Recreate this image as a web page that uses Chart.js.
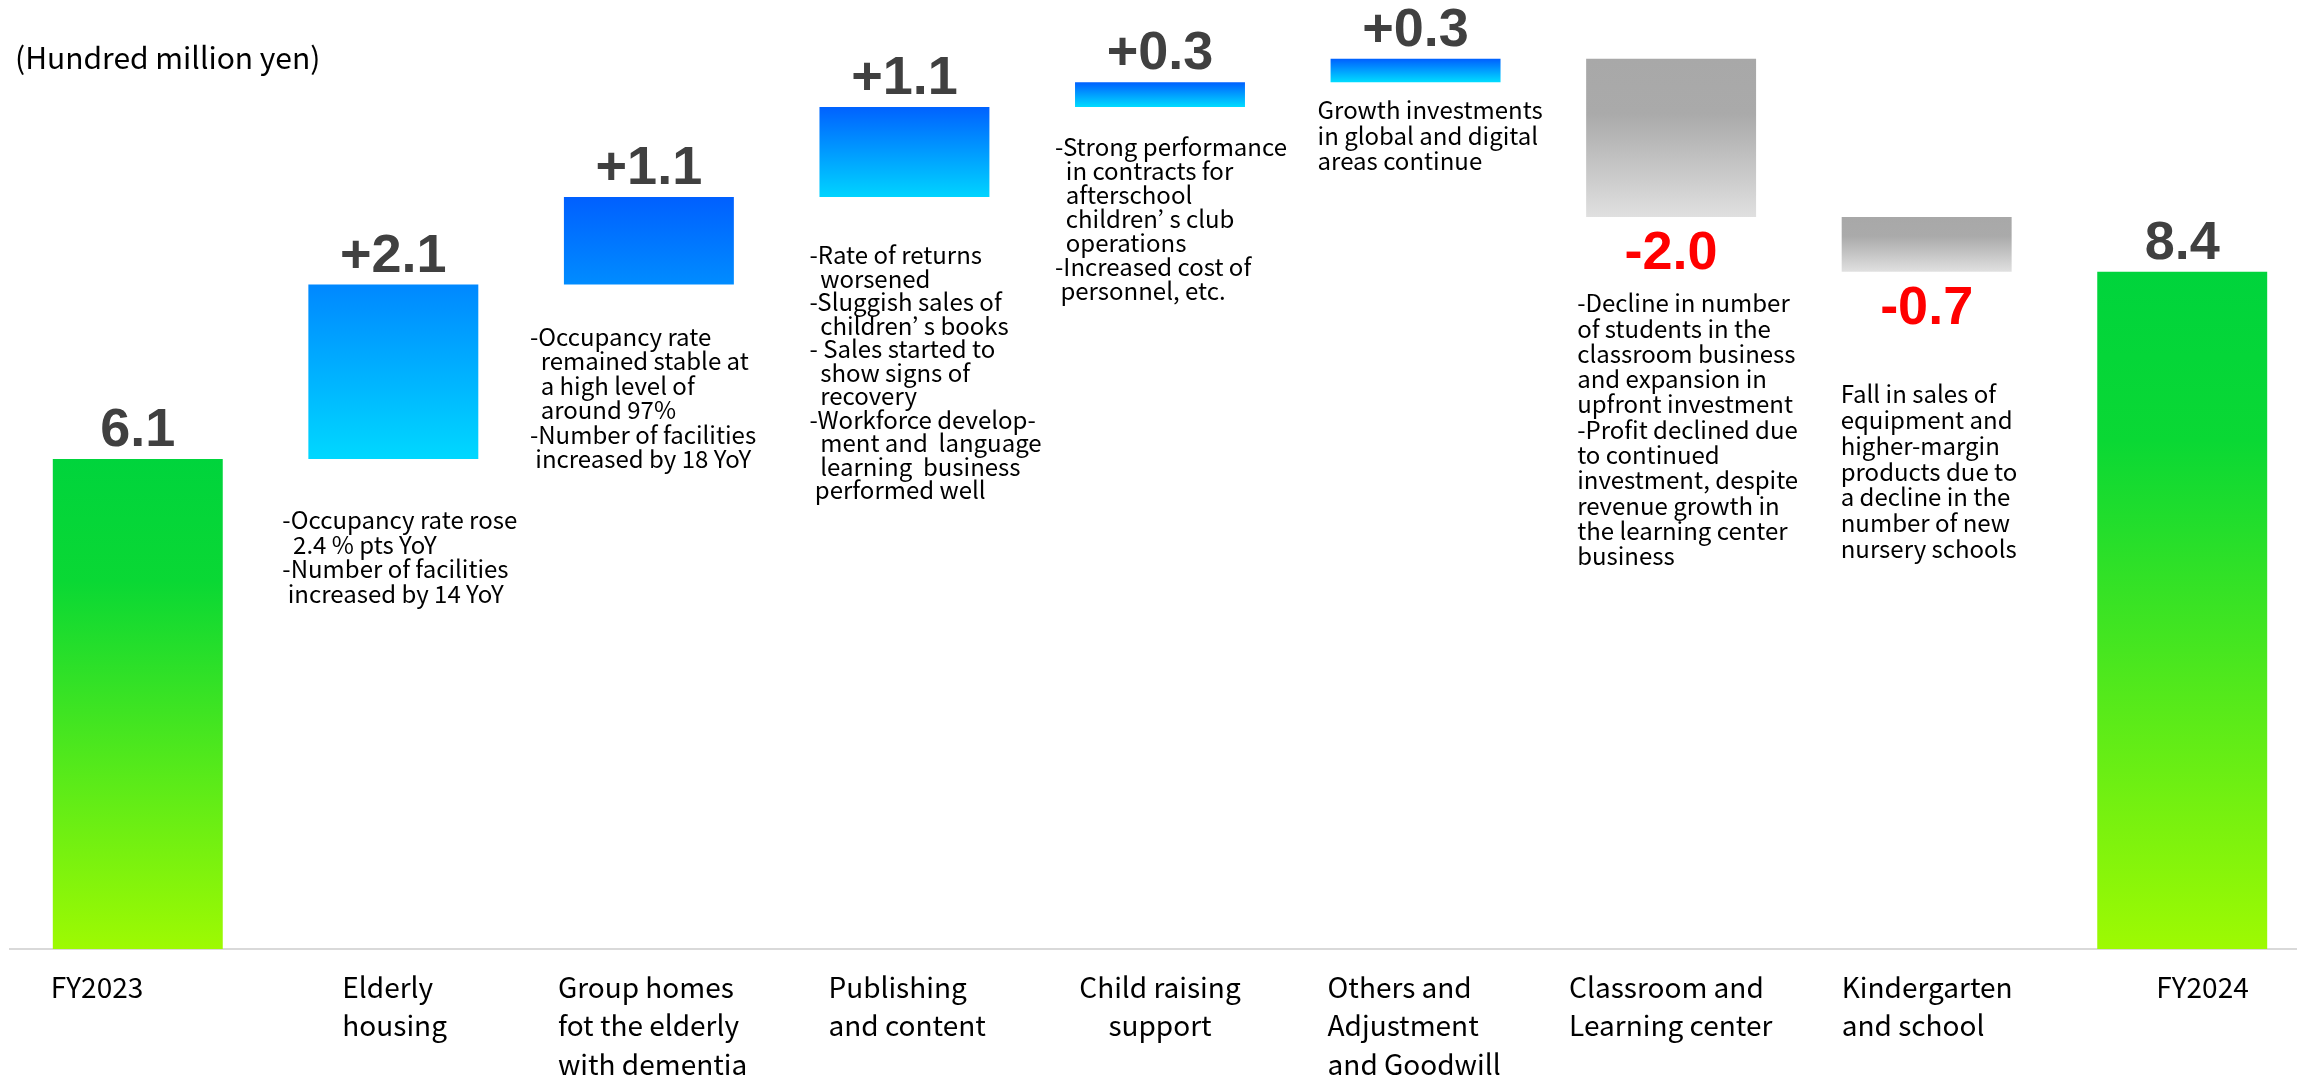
<!DOCTYPE html>
<html lang="en">
<head>
  <meta charset="UTF-8">
  <title>Operating profit bridge FY2023 to FY2024</title>
  <script src="https://cdn.jsdelivr.net/npm/chart.js"></script>
  <style>
    html, body { margin: 0; padding: 0; background: #fff; overflow: hidden; }
    #wrap { position: relative; width: 2310px; height: 1079px; }
  </style>
</head>
<body>
  <div id="wrap"><canvas id="bridgeChart"></canvas></div>

  <script>
    // categories (multi-line x labels)
    const categories = [
      ["FY2023"],
      ["Elderly", "housing"],
      ["Group homes", "fot the elderly", "with dementia"],
      ["Publishing", "and content"],
      ["Child raising", "support"],
      ["Others and", "Adjustment", "and Goodwill"],
      ["Classroom and", "Learning center"],
      ["Kindergarten", "and school"],
      ["FY2024"]
    ];

    // floating bar ranges (hundred million yen)
    const barStart = [0, 6.1, 8.27, 9.36, 10.48, 10.79, 11.08, 9.11, 0];
    const barEnd   = [6.1, 8.27, 9.36, 10.48, 10.79, 11.08, 9.11, 8.43, 8.43];

    const valueLabels = ["6.1", "+2.1", "+1.1", "+1.1", "+0.3", "+0.3", "-2.0", "-0.7", "8.4"];

    const notes = [
      [],
      ["-Occupancy rate rose", "  2.4 % pts YoY", "-Number of facilities", " increased by 14 YoY"],
      ["-Occupancy rate", "  remained stable at", "  a high level of", "  around 97%", "-Number of facilities", " increased by 18 YoY"],
      ["-Rate of returns", "  worsened", "-Sluggish sales of", "  children\u2019 s books", "- Sales started to", "  show signs of", "  recovery",
       "-Workforce develop-", "  ment and  language", "  learning  business", " performed well"],
      ["-Strong performance", "  in contracts for", "  afterschool", "  children\u2019 s club", "  operations", "-Increased cost of", " personnel, etc."],
      ["Growth investments", "in global and digital", "areas continue"],
      ["-Decline in number", "of students in the", "classroom business", "and expansion in", "upfront investment",
       "-Profit declined due", "to continued", "investment, despite", "revenue growth in", "the learning center", "business"],
      ["Fall in sales of", "equipment and", "higher-margin", "products due to", "a decline in the", "number of new", "nursery schools"],
      []
    ];

    const unitLabel = "(Hundred million yen)";

    // styles
    const green = [[0, '#00d43c'], [0.25, '#0ad834'], [1, '#9efa02']];
    const grey = [[0, '#a8a8a8'], [0.35, '#aaaaaa'], [1, '#e0e0e0']];
    const barStops = [
      green,
      [[0, '#0088ff'], [1, '#00d8ff']],
      [[0, '#0060ff'], [1, '#008cff']],
      [[0, '#0062ff'], [1, '#00d4ff']],
      [[0, '#0060ff'], [1, '#00dcff']],
      [[0, '#0060ff'], [1, '#00dcff']],
      grey,
      grey,
      green
    ];
    const noteOffset = [null, [-26, 61], [-34, 52], [-10, 58], [-20, 40], [-13, 28], [-9, 86], [-1, 122], null];
    const noteLineHeight = [0, 24.5, 24.5, 23.5, 24, 25.5, 25.3, 25.9, 0];
    const labelDx = [-87, -51, -91, -76, null, -88, -102, -85, -26]; // null = centred lines

    const textFont = "'Noto Sans CJK JP', 'Noto Sans', sans-serif";
    const numFont = "'Liberation Sans', Arial, sans-serif";

    function barFill(ctx) {
      const chart = ctx.chart;
      const i = ctx.dataIndex;
      if (!chart.chartArea || i === undefined) return '#cccccc';
      const y = chart.scales.y;
      const top = y.getPixelForValue(Math.max(barStart[i], barEnd[i]));
      const bottom = y.getPixelForValue(Math.min(barStart[i], barEnd[i]));
      const g = chart.ctx.createLinearGradient(0, top, 0, bottom);
      barStops[i].forEach(([o, c]) => g.addColorStop(o, c));
      return g;
    }

    const annotate = {
      id: 'annotate',
      afterDatasetsDraw(chart) {
        const ctx = chart.ctx;
        const bars = chart.getDatasetMeta(0).data;
        ctx.save();

        // value labels
        ctx.font = "bold 54px " + numFont;
        ctx.textAlign = 'center';
        ctx.textBaseline = 'alphabetic';
        bars.forEach((el, i) => {
          const top = Math.min(el.y, el.base);
          const bottom = Math.max(el.y, el.base);
          if (barEnd[i] < barStart[i]) {
            ctx.fillStyle = '#ff0000';
            ctx.fillText(valueLabels[i], el.x, bottom + 52);
          } else {
            ctx.fillStyle = '#404040';
            ctx.fillText(valueLabels[i], el.x, top - 13);
          }
        });

        // comment blocks
        ctx.font = "24px " + textFont;
        ctx.textAlign = 'left';
        ctx.textBaseline = 'middle';
        ctx.fillStyle = '#000000';
        bars.forEach((el, i) => {
          if (!notes[i].length) return;
          const bottom = Math.max(el.y, el.base);
          const x0 = el.x - el.width / 2 + noteOffset[i][0];
          const y0 = bottom + noteOffset[i][1];
          notes[i].forEach((line, k) => ctx.fillText(line, x0, y0 + k * noteLineHeight[i]));
        });

        // category labels under the axis
        const xs = chart.scales.x;
        ctx.font = "28px " + textFont;
        categories.forEach((lines, i) => {
          const cx = xs.getPixelForValue(i);
          lines.forEach((line, k) => {
            const ly = 987 + k * 38.5;
            if (labelDx[i] === null) {
              ctx.textAlign = 'center';
              ctx.fillText(line, cx, ly);
            } else {
              ctx.textAlign = 'left';
              ctx.fillText(line, cx + labelDx[i], ly);
            }
          });
        });

        // unit label
        ctx.textAlign = 'left';
        ctx.font = "30px " + textFont;
        ctx.fillText(unitLabel, 15, 58);
        ctx.restore();
      }
    };

    new Chart(document.getElementById('bridgeChart'), {
      type: 'bar',
      data: {
        labels: categories,
        datasets: [{
          data: barStart.map((s, i) => [s, barEnd[i]]),
          backgroundColor: barFill,
          borderWidth: 0,
          categoryPercentage: 1,
          barPercentage: 0.665
        }]
      },
      options: {
        responsive: true,
        maintainAspectRatio: false,
        animation: false,
        layout: { padding: { left: 10, right: 0, top: 1, bottom: 0 } },
        plugins: { legend: { display: false }, tooltip: { enabled: false } },
        scales: {
          x: {
            grid: { display: false },
            border: { display: true, color: '#d9d9d9', width: 2 },
            ticks: { display: false },
            afterFit(scale) { scale.height = 130; }
          },
          y: { display: false, min: 0, max: 11.8 }
        }
      },
      plugins: [annotate]
    });
  </script>
</body>
</html>
